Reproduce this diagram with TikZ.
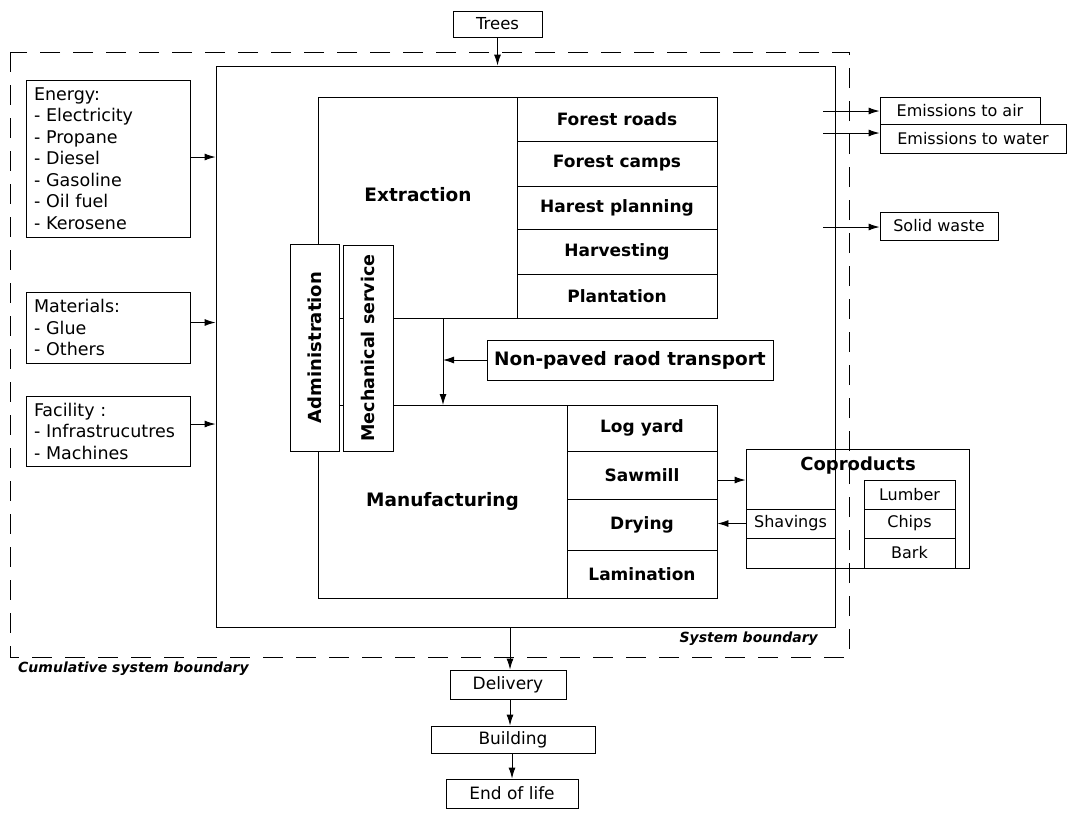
\documentclass[tikz,border=0pt]{standalone}
\usepackage{fontspec}
\setmainfont{DejaVu Sans}
\usetikzlibrary{arrows.meta}
\begin{document}
\begin{tikzpicture}[x=1pt,y=-1pt,
  box/.style={draw, line width=0.9pt, inner sep=0pt, align=center},
  wbox/.style={box, fill=white},
  subitem/.style={box, font=\bfseries\fontsize{17}{20}\selectfont},
  inbox/.style={box, align=left, inner xsep=8pt, font=\fontsize{17.5}{21.5}\selectfont},
  outbox/.style={box, font=\fontsize{16}{19}\selectfont},
  lifebox/.style={box, font=\fontsize{17}{20}\selectfont},
  smallitem/.style={box, font=\fontsize{16}{19}\selectfont},
  bigtxt/.style={font=\bfseries\fontsize{18.5}{22}\selectfont},
  btxt/.style={font=\bfseries\itshape\fontsize{14}{17}\selectfont},
  arr/.style={-{Latex[length=11pt,width=7pt]}, line width=0.9pt},
  cumdash/.style={line width=0.9pt, dash pattern=on 20pt off 13pt}
]
\useasboundingbox (0,0) rectangle (1067,814);

% boundaries
\draw[cumdash] (10,52) rectangle (849,657);
\node[box, minimum width=619pt, minimum height=561pt] (sb) at (525.5,346.5) {};
\node[btxt, anchor=east, inner sep=0pt] (sblab) at (818,639) {System boundary};
\node[btxt, anchor=west, inner sep=0pt] (cumlab) at (18,669) {Cumulative system boundary};

% trees
\node[box, minimum width=89pt, minimum height=26pt, font=\fontsize{16.5}{19}\selectfont] (trees) at (497.5,24) {Trees};
\draw[arr] (trees.south) -- (trees.south |- sb.north);

% inputs
\node[inbox, text width=148pt, minimum height=157pt] (energy) at (108,158.5)
  {Energy:\\- Electricity\\- Propane\\- Diesel\\- Gasoline\\- Oil fuel\\- Kerosene};
\node[inbox, text width=148pt, minimum height=71pt] (materials) at (108,327.5)
  {Materials:\\- Glue\\- Others};
\node[inbox, text width=148pt, minimum height=70pt] (facility) at (108,431)
  {Facility :\\- Infrastrucutres\\- Machines};
\draw[arr] ([yshift=1.5pt]energy.east) -- ([yshift=1.5pt]energy.east -| sb.west);
\draw[arr] ([yshift=5pt]materials.east) -- ([yshift=5pt]materials.east -| sb.west);
\draw[arr] ([yshift=7pt]facility.east) -- ([yshift=7pt]facility.east -| sb.west);

% extraction
\node[box, minimum width=199pt, minimum height=221pt] (ext) at (417.5,207.5) {};
\node[bigtxt] (exttxt) at (418,195) {Extraction};
\node[subitem, minimum width=200pt, minimum height=44pt] (roads) at (617,119) {Forest roads};
\node[subitem, minimum width=200pt, minimum height=45pt] (camps) at (617,163.5) {Forest camps};
\node[subitem, minimum width=200pt, minimum height=43pt] (plan) at (617,207.5) {Harest planning};
\node[subitem, minimum width=200pt, minimum height=45pt] (harv) at (617,251.5) {Harvesting};
\node[subitem, minimum width=200pt, minimum height=44pt] (plant) at (617,296) {Plantation};

% manufacturing
\node[box, minimum width=249pt, minimum height=193pt, bigtxt] (man) at (442.5,501.5) {Manufacturing};
\node[subitem, minimum width=150pt, minimum height=46pt] (logyard) at (642,428) {Log yard};
\node[subitem, minimum width=150pt, minimum height=48pt] (sawmill) at (642,475) {Sawmill};
\node[subitem, minimum width=150pt, minimum height=51pt] (drying) at (642,524.5) {Drying};
\node[subitem, minimum width=150pt, minimum height=48pt] (lam) at (642,574) {Lamination};

% admin / mech
\node[wbox, rotate=90, minimum width=207pt, minimum height=49pt, font=\bfseries\fontsize{18}{21}\selectfont] (admin) at (314.5,347.5) {Administration};
\node[wbox, rotate=90, minimum width=206pt, minimum height=50pt, font=\bfseries\fontsize{17.5}{21}\selectfont] (mech) at (368,348) {Mechanical service};

% transport
\node[box, minimum width=286pt, minimum height=40pt, bigtxt] (road) at (630,360) {Non-paved raod transport};
\coordinate (dtop) at (443,318);
\coordinate (dbot) at (443,405);
\draw[arr] (dtop) -- (dbot);
\draw[arr] (road.west) -- (road.west -| dtop);

% coproducts
\node[box, minimum width=223pt, minimum height=119pt] (copro) at (857.5,508.5) {};
\node[font=\bfseries\fontsize{18}{21}\selectfont, inner sep=0pt] (coprotxt) at (858,466) {Coproducts};
\node[smallitem, minimum width=89pt, minimum height=29pt] (shav) at (790.5,523.5) {Shavings};
\node[smallitem, minimum width=89pt, minimum height=30pt] (emptyc) at (790.5,553) {};
\node[smallitem, minimum width=91pt, minimum height=29pt] (lumber) at (909.5,494.5) {Lumber};
\node[smallitem, minimum width=91pt, minimum height=29pt] (chips) at (909.5,523.5) {Chips};
\node[smallitem, minimum width=91pt, minimum height=30pt] (bark) at (909.5,553) {Bark};
\draw[arr] ([yshift=-5pt]sawmill.east) -- ([yshift=-5pt]sawmill.east -| copro.west);
\draw[arr] (shav.west) -- (shav.west -| drying.east);

% outputs
\node[outbox, minimum width=160pt, minimum height=27pt] (air) at (960,110.5) {Emissions to air};
\node[outbox, minimum width=186pt, minimum height=29pt] (water) at (973,138.5) {Emissions to water};
\node[outbox, minimum width=118pt, minimum height=28pt] (solid) at (939,226) {Solid waste};
\coordinate (oa) at (823,111);
\coordinate (ow) at (823,133);
\coordinate (os) at (823,227);
\draw[arr] (oa) -- (oa -| air.west);
\draw[arr] (ow) -- (ow -| water.west);
\draw[arr] (os) -- (os -| solid.west);

% life cycle
\node[lifebox, minimum width=116pt, minimum height=29pt] (deliv) at (508,684.5) {Delivery};
\node[lifebox, minimum width=164pt, minimum height=27pt] (build) at (513,739.5) {Building};
\node[lifebox, minimum width=132pt, minimum height=29pt] (eol) at (512,793.5) {End of life};
\coordinate (sbout) at (510,627);
\draw[arr] (sbout) -- (sbout |- deliv.north);
\draw[arr] (deliv.south -| sbout) -- (build.north -| sbout);
\draw[arr] ([xshift=2pt]build.south -| sbout) -- ([xshift=2pt]eol.north -| sbout);
\end{tikzpicture}
\end{document}
